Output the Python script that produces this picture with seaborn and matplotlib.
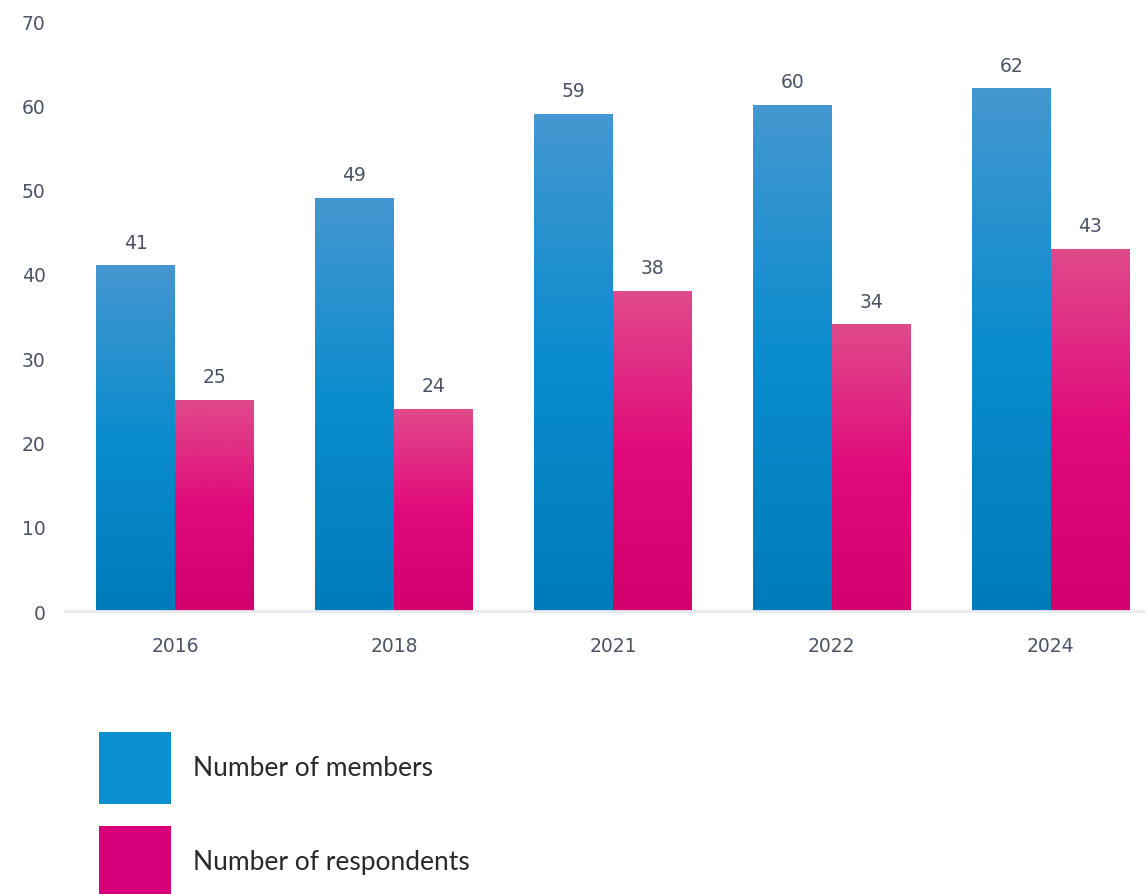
import numpy as np
import pandas as pd
import seaborn as sns
import matplotlib
matplotlib.use("Agg")
import matplotlib.pyplot as plt
from matplotlib.colors import LinearSegmentedColormap
from matplotlib.patches import Patch

years = ["2016", "2018", "2021", "2022", "2024"]
members = [41, 49, 59, 60, 62]
respondents = [25, 24, 38, 34, 43]
series_names = ["Number of members", "Number of respondents"]
y_ticks = [0, 10, 20, 30, 40, 50, 60, 70]

df = pd.DataFrame({
    "year": years * 2,
    "value": members + respondents,
    "series": [series_names[0]] * len(years) + [series_names[1]] * len(years),
})

sns.set_theme(style="white")
plt.rcParams["font.family"] = ["DejaVu Sans"]

fig = plt.figure(figsize=(11.45, 8.95), dpi=100)
ax = fig.add_axes([65 / 1145, (895 - 612) / 895, 1 - 65 / 1145, (612 - 22) / 895])

solid = {series_names[0]: "#0A8CCD", series_names[1]: "#DE0A7C"}
sns.barplot(data=df, x="year", y="value", hue="series", order=years,
            hue_order=series_names, palette=solid, width=0.72, ax=ax,
            legend=False, saturation=1, linewidth=0)

grads = [
    LinearSegmentedColormap.from_list("b", ["#007BBA", "#0A8CCD", "#4497D0"]),
    LinearSegmentedColormap.from_list("p", ["#D2006E", "#E00A7C", "#E04A8B"]),
]
ax.set_ylim(0, 70)
ax.set_xlim(-0.502, 4.43)

lab_color = "#4B5366"
grad = np.linspace(0, 1, 256).reshape(-1, 1)
for ci, cont in enumerate(ax.containers):
    for p in cont.patches:
        x0, y0 = p.get_x(), p.get_y()
        w, h = p.get_width(), p.get_height()
        im = ax.imshow(grad, cmap=grads[ci], origin="lower", aspect="auto",
                       extent=[x0, x0 + w, y0, y0 + h], zorder=p.get_zorder() + 0.1,
                       interpolation="bilinear")
        im.set_clip_path(p)
    ax.bar_label(cont, padding=10, fontsize=13.5, color=lab_color)

ax.set_ylim(0, 70)
ax.set_xlim(-0.502, 4.43)
ax.set_yticks(y_ticks)
ax.set_xlabel("")
ax.set_ylabel("")
ax.tick_params(axis="both", length=0, labelsize=13.5, labelcolor=lab_color)
ax.tick_params(axis="x", pad=18)
ax.tick_params(axis="y", pad=14)
for s in ["top", "right", "left"]:
    ax.spines[s].set_visible(False)
ax.spines["bottom"].set_color("#E8EAEE")
ax.spines["bottom"].set_linewidth(2)
ax.grid(False)

handles = [Patch(facecolor="#0A8FD0", edgecolor="none"),
           Patch(facecolor="#D8007A", edgecolor="none")]
fs = 19
H = 72 * 72 / 100  # handle size in points
hh = (H / fs - 0.245) / 0.65
leg = fig.legend(handles, series_names, loc="upper left",
                 bbox_to_anchor=(99 / 1145, 1 - 733 / 895), frameon=False,
                 handlelength=H / fs, handleheight=hh,
                 handletextpad=16 / fs, labelspacing=15.8 / fs, borderpad=0,
                 borderaxespad=0, prop={"family": ["Lato", "DejaVu Sans"], "size": fs})
for t in leg.get_texts():
    t.set_color("#2A2A2A")

fig.savefig("out.png", dpi=100)
